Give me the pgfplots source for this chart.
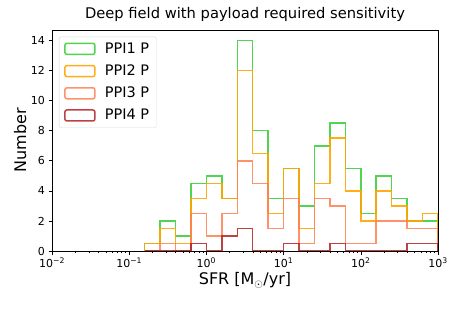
\documentclass[border=0pt]{standalone}
\usepackage{pgfplots}
\pgfplotsset{compat=1.18}
\usepackage{pgfplotstable}
\usepackage{fontspec}
\setmainfont{DejaVu Sans}
\definecolor{cgreen}{RGB}{50,205,50}
\definecolor{corange}{RGB}{255,165,0}
\definecolor{csalmon}{RGB}{255,127,80}
\definecolor{cred}{RGB}{178,34,34}
% bin edges (0.2 dex) and counts: PPI1, PPI2, PPI3, PPI4
\pgfplotstableread{
x g o s r
0.158489 0 0 0 0
0.158489 0.5 0.5 0 0
0.251189 2.0 1.5 0.5 0
0.398107 1.0 0.5 0 0
0.630957 4.5 3.5 2.5 0.5
1.0 5.0 4.5 1.0 0
1.584893 3.5 3.5 2.5 1.0
2.511886 14.0 12.0 6.0 1.5
3.981072 8.0 6.5 4.5 0
6.309573 3.5 2.5 1.5 0
10.0 5.5 5.5 3.5 0.5
15.848932 3.0 1.5 0.5 0
25.118864 7.0 4.5 3.5 0
39.810717 8.5 7.5 3.0 0.5
63.095734 5.5 4.0 0.5 0
100.0 2.5 2.0 0.5 0
158.489319 5.0 4.0 2.0 0
251.188643 3.5 3.0 2.0 0
398.107171 2.0 2.0 1.5 0.5
630.957344 2.0 2.5 1.5 0.5
1000.0 2.0 2.5 1.5 0.5
1000.0 0 0 0 0
}\hist
\begin{document}
\begin{tikzpicture}
\begin{axis}[
  at={(0,0)}, anchor=south west,
  scale only axis, width=386pt, height=221pt,
  axis on top,
  xmode=log, xmin=0.01, xmax=1000,
  ymin=0, ymax=14.7,
  xtick={0.01,0.1,1,10,100,1000},
  xticklabels={10\textsuperscript{−2},10\textsuperscript{−1},10\textsuperscript{0},10\textsuperscript{1},10\textsuperscript{2},10\textsuperscript{3}},
  minor xtick={0.02,0.03,0.04,0.05,0.06,0.07,0.08,0.09,0.2,0.3,0.4,0.5,0.6,0.7,0.8,0.9,2,3,4,5,6,7,8,9,20,30,40,50,60,70,80,90,200,300,400,500,600,700,800,900},
  ytick={0,2,4,6,8,10,12,14},
  /pgf/number format/assume math mode=true,
  tick align=outside, tick pos=left,
  major tick length=3.5pt, minor tick length=2pt,
  every tick/.style={black, line width=0.6pt},
  axis line style={black, line width=0.8pt},
  tick label style={font=\fontsize{11}{13}\selectfont},
  xlabel={SFR [M$_{\odot}$/yr]},
  ylabel={Number},
  label style={font=\fontsize{16}{19}\selectfont},
  xlabel style={at={(axis description cs:0.5,0)}, anchor=north, yshift=-18pt},
  ylabel style={at={(axis description cs:0,0.5)}, anchor=south, yshift=22pt},
  title={Deep field with payload required sensitivity},
  title style={font=\fontsize{14.7}{17}\selectfont, at={(axis description cs:0.5,1)}, anchor=base, inner sep=0pt, yshift=6pt},
  legend style={at={(axis description cs:0.018,0.97)}, anchor=north west,
    font=\fontsize{14.5}{17}\selectfont, draw=black!15, rounded corners=2pt,
    inner xsep=5pt, inner ysep=4pt, row sep=6pt},
  legend cell align=left,
  legend image code/.code={\draw[#1, fill=none] (0pt,-5.5pt) rectangle (30pt,5.5pt);
    \path[draw=none, fill=none] (0pt,0pt) -- (38pt,0pt);},
]
\addplot[const plot mark left, cgreen, opacity=0.85, line width=1.5pt] table[x=x, y=g] {\hist};
\addlegendentry{PPI1 P}
\addplot[const plot mark left, corange, opacity=0.9, line width=1.5pt] table[x=x, y=o] {\hist};
\addlegendentry{PPI2 P}
\addplot[const plot mark left, csalmon, opacity=0.85, line width=1.5pt] table[x=x, y=s] {\hist};
\addlegendentry{PPI3 P}
\addplot[const plot mark left, cred, opacity=0.85, line width=1.5pt] table[x=x, y=r] {\hist};
\addlegendentry{PPI4 P}
\end{axis}
\pgfresetboundingbox
\path[use as bounding box] (-52pt,-58pt) rectangle (411pt,251pt);
\end{tikzpicture}
\end{document}
